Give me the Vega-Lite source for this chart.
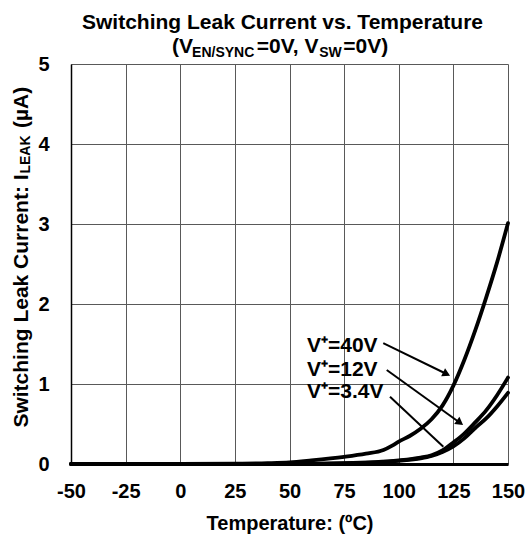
{
  "$schema": "https://vega.github.io/schema/vega-lite/v6.json",
  "autosize": "none",
  "width": 437,
  "height": 400,
  "padding": {"left": 71, "top": 64, "right": 20, "bottom": 71},
  "background": "white",
  "config": {
    "view": {"stroke": null},
    "font": "Liberation Sans",
    "title": {"font": "Liberation Sans", "fontWeight": "bold", "fontSize": 21, "color": "black"},
    "axis": {"labelFont": "Liberation Sans", "labelFontWeight": "bold", "labelFontSize": 20, "labelColor": "black", "titleFont": "Liberation Sans", "titleFontWeight": "bold", "titleFontSize": 20, "titleColor": "black", "gridColor": "#595959", "gridWidth": 1, "gridOpacity": 1, "ticks": false}
  },
  "title": {"text": "Switching Leak Current vs. Temperature", "anchor": "middle", "baseline": "alphabetic", "offset": -14, "dx": -7},
  "datasets": {
    "curves": [
      {"t": -50, "v": 0, "s": "40V"}, {"t": 0, "v": 0, "s": "40V"}, {"t": 25, "v": 0.004, "s": "40V"}, {"t": 40, "v": 0.01, "s": "40V"}, {"t": 50, "v": 0.02, "s": "40V"}, {"t": 60, "v": 0.045, "s": "40V"}, {"t": 75, "v": 0.09, "s": "40V"}, {"t": 85, "v": 0.13, "s": "40V"}, {"t": 93, "v": 0.175, "s": "40V"}, {"t": 97, "v": 0.23, "s": "40V"}, {"t": 100, "v": 0.28, "s": "40V"}, {"t": 105, "v": 0.35, "s": "40V"}, {"t": 110, "v": 0.44, "s": "40V"}, {"t": 115, "v": 0.56, "s": "40V"}, {"t": 120, "v": 0.73, "s": "40V"}, {"t": 125, "v": 0.98, "s": "40V"}, {"t": 130, "v": 1.3, "s": "40V"}, {"t": 135, "v": 1.67, "s": "40V"}, {"t": 140, "v": 2.08, "s": "40V"}, {"t": 145, "v": 2.52, "s": "40V"}, {"t": 150, "v": 3.01, "s": "40V"},
      {"t": -50, "v": 0, "s": "12V"}, {"t": 50, "v": 0.002, "s": "12V"}, {"t": 75, "v": 0.01, "s": "12V"}, {"t": 100, "v": 0.045, "s": "12V"}, {"t": 110, "v": 0.08, "s": "12V"}, {"t": 115, "v": 0.11, "s": "12V"}, {"t": 120, "v": 0.17, "s": "12V"}, {"t": 125, "v": 0.27, "s": "12V"}, {"t": 130, "v": 0.38, "s": "12V"}, {"t": 135, "v": 0.52, "s": "12V"}, {"t": 140, "v": 0.67, "s": "12V"}, {"t": 145, "v": 0.86, "s": "12V"}, {"t": 150, "v": 1.08, "s": "12V"},
      {"t": -50, "v": 0, "s": "3.4V"}, {"t": 50, "v": 0.001, "s": "3.4V"}, {"t": 75, "v": 0.008, "s": "3.4V"}, {"t": 100, "v": 0.04, "s": "3.4V"}, {"t": 110, "v": 0.07, "s": "3.4V"}, {"t": 115, "v": 0.1, "s": "3.4V"}, {"t": 120, "v": 0.15, "s": "3.4V"}, {"t": 125, "v": 0.22, "s": "3.4V"}, {"t": 130, "v": 0.32, "s": "3.4V"}, {"t": 135, "v": 0.45, "s": "3.4V"}, {"t": 140, "v": 0.57, "s": "3.4V"}, {"t": 145, "v": 0.72, "s": "3.4V"}, {"t": 150, "v": 0.89, "s": "3.4V"}
    ],
    "arrows": [
      {"s": "40V", "t": 92.9, "v": 1.51, "t2": 121.9, "v2": 1.125},
      {"s": "12V", "t": 94.5, "v": 1.175, "t2": 128.0, "v2": 0.516},
      {"s": "3.4V", "t": 96.0, "v": 0.84, "t2": 120.4, "v2": 0.216}
    ],
    "labels": [
      {"label": "V⁺=40V", "t": 58, "v": 1.4},
      {"label": "V⁺=12V", "t": 58, "v": 1.1},
      {"label": "V⁺=3.4V", "t": 58, "v": 0.825}
    ],
    "titleMain": [
      {"txt": "(V", "t": -3.8, "v": 5.1375},
      {"txt": "=0V, V", "t": 35.0, "v": 5.1375},
      {"txt": "=0V)", "t": 74.6, "v": 5.1375}
    ],
    "titleSub": [
      {"txt": "EN/SYNC", "t": 5.4, "v": 5.09},
      {"txt": "SW", "t": 63.6, "v": 5.09}
    ],
    "yMainEnd": [{"txt": "Switching Leak Current: I", "t": -69.7, "v": 3.62}],
    "yMainStart": [{"txt": "(µA)", "t": -69.7, "v": 4.2}],
    "ySub": [{"txt": "LEAK", "t": -68.8, "v": 3.63}]
  },
  "encoding": {
    "x": {"field": "t", "type": "quantitative", "scale": {"domain": [-50, 150], "nice": false, "zero": false},
      "axis": {"values": [-50, -25, 0, 25, 50, 75, 100, 125, 150], "labelExpr": "'' + datum.value", "title": "Temperature: (ºC)", "titlePadding": 12, "labelPadding": 17, "domainColor": "black", "domainWidth": 3, "labelFlush": false}},
    "y": {"field": "v", "type": "quantitative", "scale": {"domain": [0, 5], "nice": false},
      "axis": {"values": [0, 1, 2, 3, 4, 5], "title": null, "labelPadding": 22, "domainColor": "black", "domainWidth": 1.5, "labelFlush": false}}
  },
  "layer": [
    {
      "data": {"name": "curves"},
      "mark": {"type": "line", "color": "black", "strokeWidth": 3.8, "interpolate": "monotone", "strokeJoin": "round", "strokeCap": "round"},
      "encoding": {"detail": {"field": "s"}}
    },
    {
      "data": {"values": [{}]},
      "mark": {"type": "rule", "color": "black", "strokeWidth": 2},
      "encoding": {"x": {"datum": 0}, "y": {"datum": 0}, "y2": {"datum": 5}}
    },
    {
      "data": {"name": "arrows"},
      "mark": {"type": "rule", "color": "black", "strokeWidth": 2},
      "encoding": {"x2": {"field": "t2"}, "y2": {"field": "v2"}}
    },
    {
      "data": {"name": "arrows"},
      "transform": [{"filter": "datum.s !== '3.4V'"}],
      "mark": {"type": "point", "shape": "triangle-right", "filled": true, "color": "black", "opacity": 1, "size": 80},
      "encoding": {
        "x": {"field": "t2", "type": "quantitative"},
        "y": {"field": "v2", "type": "quantitative"},
        "angle": {"field": "s", "type": "nominal", "scale": {"domain": ["40V", "12V"], "range": [26, 36]}, "legend": null}
      }
    },
    {
      "data": {"name": "labels"},
      "mark": {"type": "text", "align": "left", "baseline": "alphabetic", "fontSize": 21, "fontWeight": "bold", "font": "Liberation Sans", "color": "black"},
      "encoding": {"text": {"field": "label"}}
    },
    {
      "data": {"name": "titleMain"},
      "mark": {"type": "text", "align": "left", "baseline": "alphabetic", "fontSize": 21, "fontWeight": "bold", "font": "Liberation Sans", "color": "black"},
      "encoding": {"text": {"field": "txt"}}
    },
    {
      "data": {"name": "titleSub"},
      "mark": {"type": "text", "align": "left", "baseline": "alphabetic", "fontSize": 14, "fontWeight": "bold", "font": "Liberation Sans", "color": "black"},
      "encoding": {"text": {"field": "txt"}}
    },
    {
      "data": {"name": "yMainEnd"},
      "mark": {"type": "text", "align": "right", "baseline": "alphabetic", "angle": 270, "fontSize": 21, "fontWeight": "bold", "font": "Liberation Sans", "color": "black"},
      "encoding": {"text": {"field": "txt"}}
    },
    {
      "data": {"name": "yMainStart"},
      "mark": {"type": "text", "align": "left", "baseline": "alphabetic", "angle": 270, "fontSize": 21, "fontWeight": "bold", "font": "Liberation Sans", "color": "black"},
      "encoding": {"text": {"field": "txt"}}
    },
    {
      "data": {"name": "ySub"},
      "mark": {"type": "text", "align": "left", "baseline": "alphabetic", "angle": 270, "fontSize": 14, "fontWeight": "bold", "font": "Liberation Sans", "color": "black"},
      "encoding": {"text": {"field": "txt"}}
    }
  ]
}
